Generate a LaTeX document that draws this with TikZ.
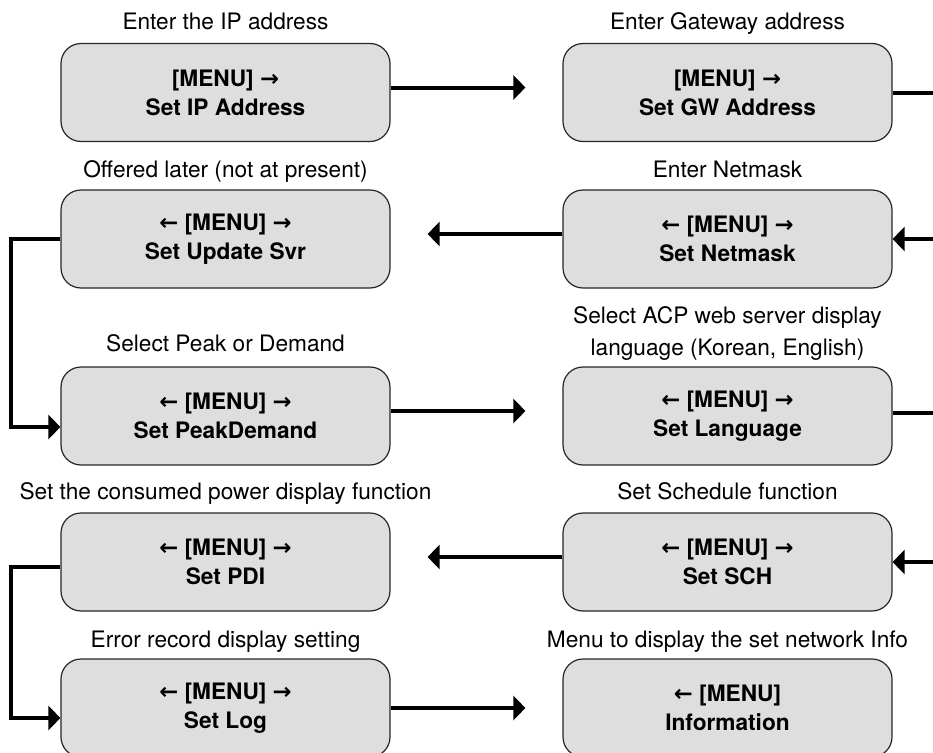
\documentclass[tikz,border=0pt]{standalone}
\usepackage{fontspec}
\setmainfont{TeX Gyre Heros}
\newfontfamily\arrowfont{DejaVu Sans}
\newcommand{\rarr}{{\arrowfont →}}
\newcommand{\larr}{{\arrowfont ←}}
\usetikzlibrary{arrows.meta}
\definecolor{boxgray}{HTML}{DEDEDE}

\begin{document}
\begin{tikzpicture}[x=0.75pt,y=-0.75pt,
    menubox/.style={draw=black!85,line width=0.9pt,fill=boxgray,rounded corners=15pt,
        minimum width=246.75pt,minimum height=73.5pt,inner sep=0pt,align=center,
        font=\bfseries\fontsize{17}{21.75}\selectfont},
    lbl/.style={inner sep=0pt,align=center,font=\fontsize{17}{24}\selectfont},
    flow/.style={line width=3pt,-{Triangle[length=9pt,width=18pt]}},
    link/.style={line width=3pt}]
    \useasboundingbox (0,0) rectangle (933,753);
    \node[menubox] (ip)   at (225.5,92.5) {[MENU] \rarr\\Set IP Address};
    \node[menubox] (gw)   at (727.5,92.5) {[MENU] \rarr\\Set GW Address};
    \node[menubox] (upd)  at (225.5,239)  {\larr{} [MENU] \rarr\\Set Update Svr};
    \node[menubox] (nm)   at (727.5,239)  {\larr{} [MENU] \rarr\\Set Netmask};
    \node[menubox] (peak) at (225.5,416)  {\larr{} [MENU] \rarr\\Set PeakDemand};
    \node[menubox] (lang) at (727.5,416)  {\larr{} [MENU] \rarr\\Set Language};
    \node[menubox] (pdi)  at (225.5,562)  {\larr{} [MENU] \rarr\\Set PDI};
    \node[menubox] (sch)  at (727.5,562)  {\larr{} [MENU] \rarr\\Set SCH};
    \node[menubox] (log)  at (225.5,708)  {\larr{} [MENU] \rarr\\Set Log};
    \node[menubox] (info) at (727.5,708)  {\larr{} [MENU]\\Information};

    \node[lbl,anchor=base] (ipl)   at (225.5,29.5) {Enter the IP address};
    \node[lbl,anchor=base] (gwl)   at (727.5,29.5) {Enter Gateway address};
    \node[lbl,anchor=base] (updl)  at (225.5,177)  {Offered later (not at present)};
    \node[lbl,anchor=base] (nml)   at (727.5,177)  {Enter Netmask};
    \node[lbl,anchor=base] (peakl) at (225.5,351)  {Select Peak or Demand};
    \node[lbl]             (langl) at (727.5,334)  {Select ACP web server display\\language (Korean, English)};
    \node[lbl,anchor=base] (pdil)  at (225.5,499)  {Set the consumed power display function};
    \node[lbl,anchor=base] (schl)  at (727.5,499)  {Set Schedule function};
    \node[lbl,anchor=base] (logl)  at (225.5,647)  {Error record display setting};
    \node[lbl,anchor=base] (infol) at (727.5,647)  {Menu to display the set network Info};

    \coordinate (gwout)   at (933,92.5);
    \coordinate (nmin)    at (933,239);
    \coordinate (langout) at (933,413);
    \coordinate (schin)   at (933,562);
    \coordinate (loopa)   at (11,427);
    \coordinate (loopb)   at (11,718);

    \draw[flow,shorten >=27.75pt] ([yshift=3.75pt]ip.east) -- ([yshift=3.75pt]gw.west);
    \draw[link] (gw.east) -- (gwout);
    \draw[flow] (nmin) -- (nm.east);
    \draw[flow,shorten >=27.75pt] ([yshift=3.75pt]nm.west) -- ([yshift=3.75pt]upd.east);
    \draw[flow] (upd.west) -| (loopa) -- ([yshift=-8.25pt]peak.west);
    \draw[flow,shorten >=27.75pt] ([yshift=3.75pt]peak.east) -- ([yshift=3.75pt]lang.west);
    \draw[link] ([yshift=2.25pt]lang.east) -- (langout);
    \draw[flow] (schin) -- (sch.east);
    \draw[flow,shorten >=27.75pt] ([yshift=3.75pt]sch.west) -- ([yshift=3.75pt]pdi.east);
    \draw[flow] ([yshift=-3.75pt]pdi.west) -| (loopb) -- ([yshift=-7.5pt]log.west);
    \draw[flow,shorten >=27.75pt] (log.east) -- (info.west);
\end{tikzpicture}
\end{document}
